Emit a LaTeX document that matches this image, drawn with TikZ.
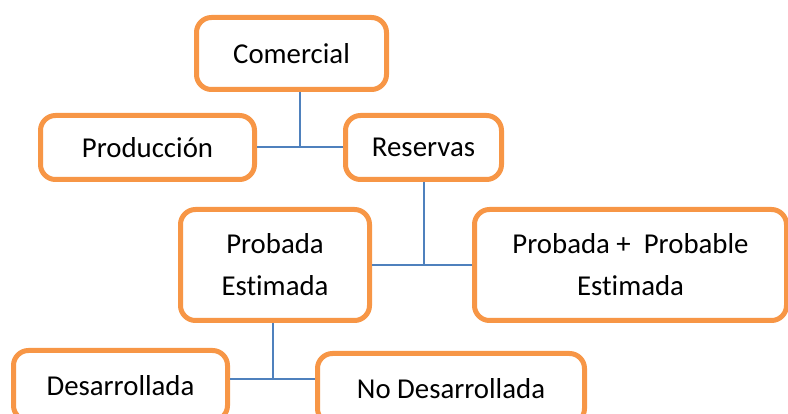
\documentclass[tikz,border=0pt]{standalone}
\usepackage{fontspec}
\setmainfont{Carlito}[Ligatures=NoCommon]
\definecolor{naranja}{HTML}{F79646}
\definecolor{azul}{HTML}{4F81BD}
\tikzset{
    caja/.style={draw=naranja, line width=5pt, rounded corners=15pt, fill=white,
        align=center, inner sep=0pt, font=\fontsize{28.8}{42}\selectfont},
    rama/.style={draw=azul, line width=2pt}
}
\begin{document}
\begin{tikzpicture}[x=1pt,y=-1pt]
        \useasboundingbox (0,0) rectangle (788,414);
        \clip (0,0) rectangle (788,414);

        % Cajas
        \node[caja, minimum width=190pt, minimum height=72pt] (comercial) at (291.5,53.5) {Comercial};
        \node[caja, minimum width=214pt, minimum height=64pt] (produccion) at (147.5,147.5) {Producción};
        \node[caja, minimum width=156pt, minimum height=64pt] (reservas) at (423.5,147.5) {Reservas};
        \node[caja, minimum width=189pt, minimum height=111pt] (probada) at (275,265) {Probada\\Estimada};
        \node[caja, minimum width=312pt, minimum height=111pt] (probable) at (630.5,265) {Probada +\ \ Probable\\Estimada};
        \node[caja, minimum width=214pt, minimum height=70pt] (desarrollada) at (120.5,385.5) {Desarrollada};
        \node[caja, minimum width=267pt, minimum height=70pt] (nodesarrollada) at (451,388.5) {No Desarrollada};

        % Conectores
        \draw[rama] (produccion.east) -- (reservas.west) coordinate[midway] (j1);
        \draw[rama] (j1) -- (j1 |- comercial.south);

        \draw[rama] (probada.east) -- (probable.west) coordinate[pos=0.52] (j2);
        \draw[rama] (j2) -- (j2 |- reservas.south);

        \draw[rama] (desarrollada.east |- 0,379) -- (nodesarrollada.west |- 0,379) coordinate[midway] (j3);
        \draw[rama] (j3) -- (j3 |- probada.south);
\end{tikzpicture}
\end{document}
